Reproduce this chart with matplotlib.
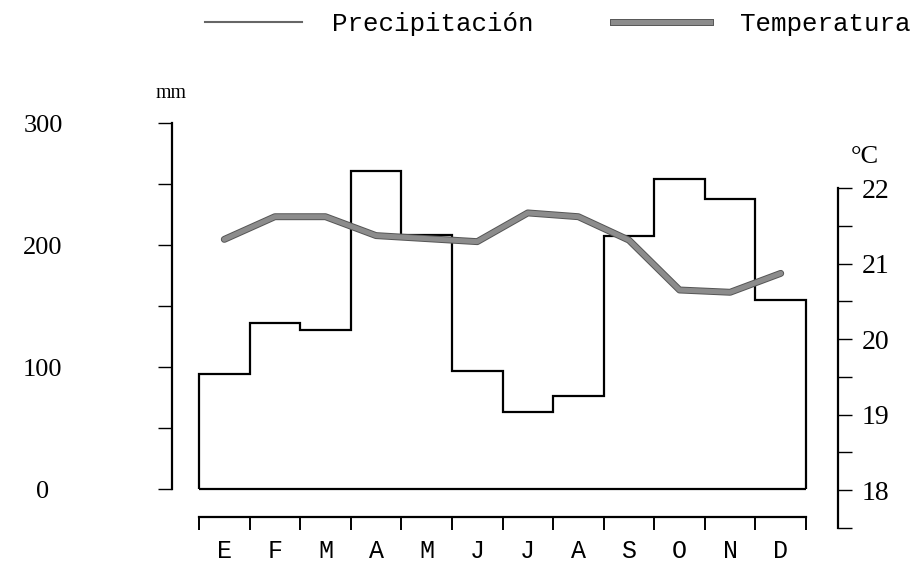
import numpy as np
import matplotlib.pyplot as plt
import matplotlib.patheffects as pe
from matplotlib.lines import Line2D
from matplotlib.ticker import FixedLocator, NullFormatter

# valores
meses = ['E', 'F', 'M', 'A', 'M', 'J', 'J', 'A', 'S', 'O', 'N', 'D']
precipitacion = [94, 136, 130, 261, 208, 97, 63, 76, 207, 254, 238, 155]   # mm
temperatura = [21.32, 21.62, 21.62, 21.37, 21.33, 21.29, 21.67, 21.62,
               21.31, 20.65, 20.62, 20.87]                                  # °C
mm_ticks = [0, 100, 200, 300]
mm_minor = [50, 150, 250]
c_ticks = [18, 19, 20, 21, 22]
c_minor = [17.5, 18.5, 19.5, 20.5, 21.5]

W, H = 911, 563
SERIF = 'Liberation Serif'
MONO = 'Liberation Mono'

fig = plt.figure(figsize=(W / 100, H / 100), dpi=100)


def box(x0, x1, ytop, ybot):
    # pixel box -> figure fraction
    return [x0 / W, 1 - ybot / H, (x1 - x0) / W, (ybot - ytop) / H]


ax = fig.add_axes(box(199, 806, 123, 489))
ax2 = fig.add_axes(box(199, 806, 188, 528))
ax2.patch.set_visible(False)

# precipitacion (escalones)
edges = np.arange(len(meses) + 1)
ax.stairs(precipitacion, edges, baseline=0, fill=False, color='black',
          lw=1.6, clip_on=False)
ax.hlines(0, edges[0], edges[-1], color='black', lw=1.6, clip_on=False)
ax.set_xlim(edges[0], edges[-1])
ax.set_ylim(0, 300)

for s in ['top', 'right']:
    ax.spines[s].set_visible(False)
ax.spines['left'].set_position(('outward', 19.4))
ax.spines['bottom'].set_position(('outward', 20.2))
ax.spines['left'].set_linewidth(1.6)
ax.spines['bottom'].set_linewidth(1.6)

ax.yaxis.set_major_locator(FixedLocator(mm_ticks))
ax.yaxis.set_minor_locator(FixedLocator(mm_minor))
ax.set_yticklabels([str(v) for v in mm_ticks], fontfamily=SERIF, fontsize=19)
for lab in ax.get_yticklabels():
    lab.set_horizontalalignment('center')
ax.tick_params(axis='y', which='both', direction='out', length=10, width=1.0,
               pad=83)

ax.xaxis.set_major_locator(FixedLocator(edges))
ax.xaxis.set_major_formatter(NullFormatter())
ax.xaxis.set_minor_locator(FixedLocator(edges[:-1] + 0.5))
ax.set_xticklabels(meses, minor=True, fontfamily=MONO, fontsize=18)
ax.tick_params(axis='x', which='major', direction='out', length=9.5, width=1.4)
ax.tick_params(axis='x', which='minor', length=0, pad=16)

# temperatura
x_mid = edges[:-1] + 0.5
ax2.plot(x_mid, temperatura, color='#8c8c8c', lw=3.6, solid_capstyle='round',
         path_effects=[pe.Stroke(linewidth=5, foreground='#555555'), pe.Normal()])
ax2.set_xlim(edges[0], edges[-1])
ax2.set_ylim(17.5, 22)
ax2.xaxis.set_visible(False)
for s in ['top', 'left', 'bottom']:
    ax2.spines[s].set_visible(False)
ax2.spines['right'].set_position(('outward', 23))
ax2.spines['right'].set_linewidth(1.6)
ax2.yaxis.tick_right()
ax2.yaxis.set_major_locator(FixedLocator(c_ticks))
ax2.yaxis.set_minor_locator(FixedLocator(c_minor))
ax2.set_yticklabels([str(v) for v in c_ticks], fontfamily=SERIF, fontsize=20)
ax2.tick_params(axis='y', which='both', direction='out', length=10, width=1.0,
                pad=7)

# unidades
fig.text(171 / W, 1 - 94 / H, 'mm', fontfamily=SERIF, fontsize=14.3,
         ha='center', va='center')
fig.text(865 / W, 1 - 157 / H, '°C', fontfamily=SERIF, fontsize=19,
         ha='center', va='center')

# leyenda
handles = [Line2D([], [], color='#666666', lw=1.5),
           Line2D([], [], color='#8c8c8c', lw=3.6,
                  path_effects=[pe.Stroke(linewidth=5, foreground='#555555'),
                                pe.Normal()])]
fig.legend(handles, ['Precipitación', 'Temperatura'], loc='upper left',
           bbox_to_anchor=(205 / W, 1 - 12 / H), ncol=2, frameon=False,
           borderpad=0, borderaxespad=0, handlelength=3.76, handletextpad=1.16,
           columnspacing=3.06, prop={'family': MONO, 'size': 18.6})

fig.savefig('out.png', dpi=100)
